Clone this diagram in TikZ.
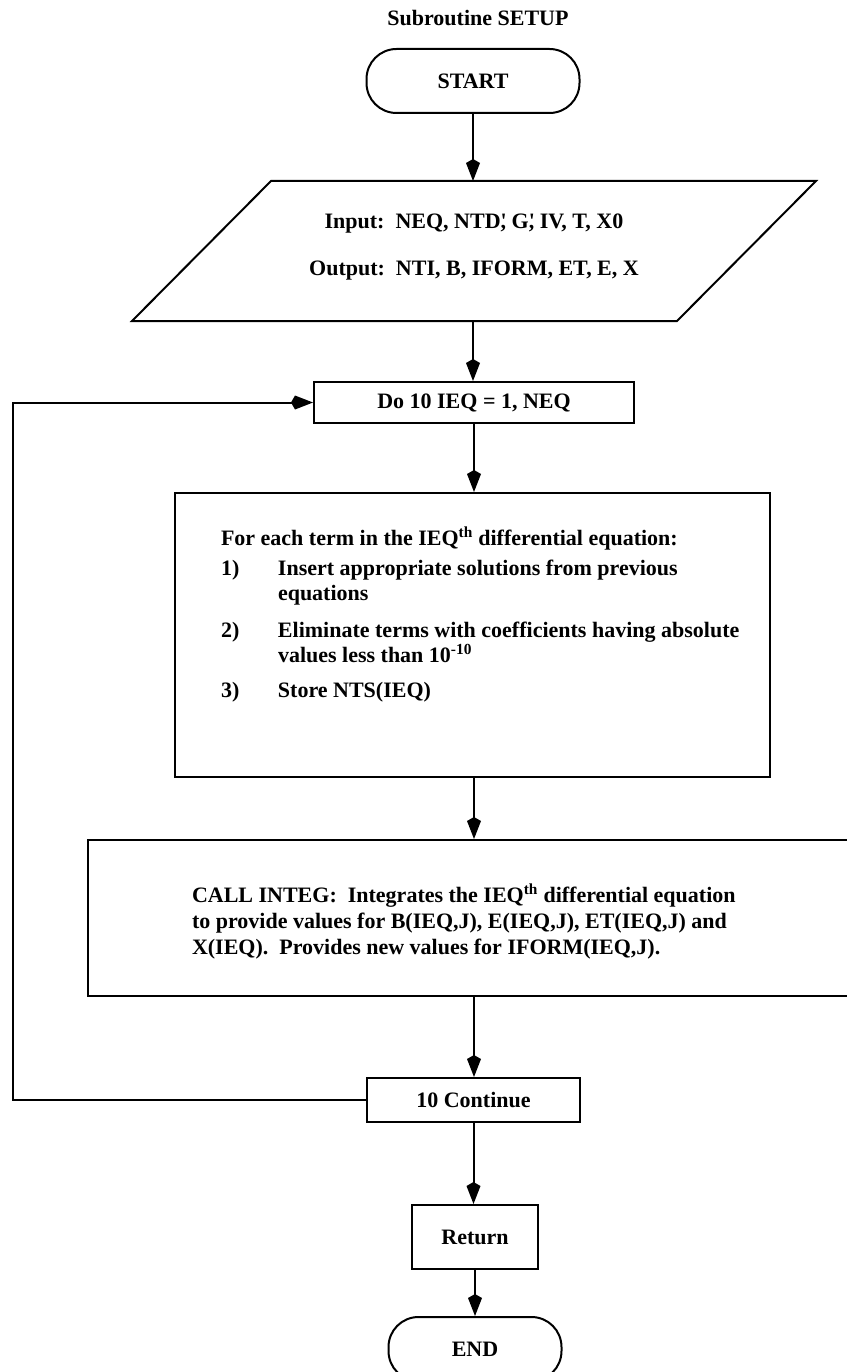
\documentclass[tikz,border=0pt]{standalone}
\usepackage{fontspec}
\setmainfont{Liberation Serif}
\usetikzlibrary{arrows.meta}
\begin{document}
\begin{tikzpicture}[x=1pt,y=-1pt,
  line width=2pt,
  every node/.style={font=\fontsize{22}{25}\selectfont\bfseries, inner sep=0pt},
  procbox/.style={draw, rectangle},
  term/.style={draw, rectangle, rounded corners=30pt},
  flow/.style={-{Kite[length=22pt,width=14pt,inset=4pt]}},
  plain/.style={anchor=base west, align=left}
]
\useasboundingbox (0,0) rectangle (846,1372);

% title
\node (title) at (478,18) {Subroutine SETUP};

% terminal and input/output block
\node[term, minimum width=213pt, minimum height=64pt] (start) at (473,81) {START};
\node[minimum width=404pt, minimum height=138pt] (io) at (474,251) {};
\draw (io.north west) -- ([xshift=139pt]io.north east)
      -- (io.south east) -- ([xshift=-139pt]io.south west) -- cycle;
\node[align=center] (iotext) at (474,247)
  {Input:\ \ NEQ, NTD\rlap{\textquotesingle}, G\rlap{\textquotesingle}, IV, T, X0\\[22pt]
   Output:\ \ NTI, B, IFORM, ET, E, X};

% loop head
\node[procbox, minimum width=320pt, minimum height=41pt] (do) at (474,402.5) {Do 10 IEQ = 1, NEQ};

% term processing
\node[procbox, minimum width=595pt, minimum height=284pt] (each) at (472.5,635) {};
\node[plain] (eachtext) at (220,545) {%
  \begin{tabular}[t]{@{}l@{}l@{}}
  \multicolumn{2}{@{}l@{}}{For each term in the IEQ\textsuperscript{th} differential equation:}\\[5pt]
  \makebox[57pt][l]{1)} & Insert appropriate solutions from previous\\
   & equations\\[12pt]
  2) & Eliminate terms with coefficients having absolute\\
   & values less than 10\textsuperscript{-10}\\[10pt]
  3) & Store NTS(IEQ)
  \end{tabular}};

% integration call
\node[procbox, minimum width=772pt, minimum height=156pt] (integ) at (474,918) {};
\node[plain] (integtext) at (191,902) {%
  \begin{tabular}[t]{@{}l@{}}
  CALL INTEG:\ \ Integrates the IEQ\textsuperscript{th} differential equation\\[1pt]
  to provide values for B(IEQ,J), E(IEQ,J), ET(IEQ,J) and\\[1pt]
  X(IEQ).\ \ Provides new values for IFORM(IEQ,J).
  \end{tabular}};

% loop end, return, end
\node[procbox, minimum width=213pt, minimum height=44pt] (cont) at (473.5,1100) {10 Continue};
\node[procbox, minimum width=126pt, minimum height=64pt] (ret) at (475,1237) {Return};
\node[term, minimum width=173pt, minimum height=64pt] (end) at (475,1349) {END};

% connectors
\draw[flow] (start.south) -- (start.south |- io.north);
\draw[flow] (start.south |- io.south) -- (start.south |- do.north);
\draw[flow] (do.south) -- (do.south |- each.north);
\draw[flow] (do.south |- each.south) -- (do.south |- integ.north);
\draw[flow] (do.south |- integ.south) -- (do.south |- cont.north);
\draw[flow] (cont.south) -- (cont.south |- ret.north);
\draw[flow] (ret.south) -- (end.north);

\coordinate (loopl) at (13,1100);
\draw[flow] (cont.west) -- (cont.west -| loopl) -- (loopl |- do.west) -- (do.west);
\end{tikzpicture}
\end{document}
